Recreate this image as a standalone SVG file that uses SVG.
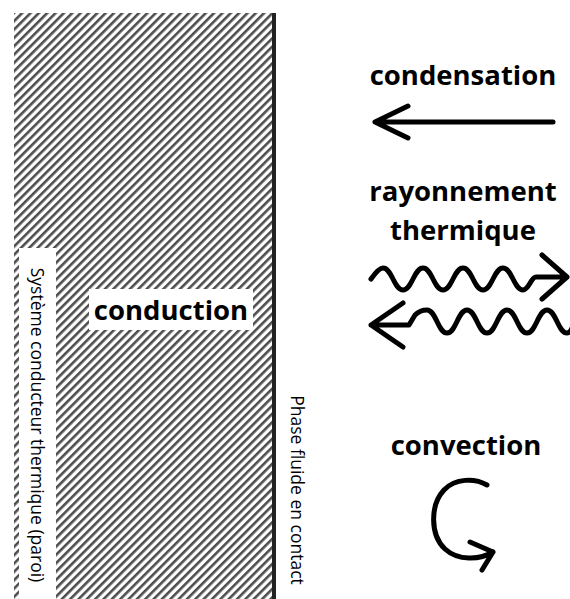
<svg xmlns="http://www.w3.org/2000/svg" width="570" height="599" viewBox="0 0 570 599">
  <style>
    .lbl { font-family: "Open Sans", "Liberation Sans", sans-serif; font-weight: bold; font-size: 27.5px; fill: #000; text-anchor: middle; }
    .vlbl { font-family: "Open Sans", "Liberation Sans", sans-serif; font-size: 17.5px; fill: #000; text-anchor: middle; }
    .arr { fill: none; stroke: #000; stroke-width: 5; stroke-linecap: round; stroke-linejoin: round; }
  </style>
  <defs>
    <pattern id="hatch" width="5.9" height="5.9" patternUnits="userSpaceOnUse" patternTransform="rotate(45)">
      <rect x="0" y="0" width="2.6" height="5.9" fill="#4d4d4d"/>
    </pattern>
  </defs>
  <rect width="570" height="599" fill="#fff"/>
  <g id="paroi">
    <rect x="14" y="13" width="258" height="586" fill="url(#hatch)"/>
    <rect x="272" y="13" width="4" height="586" fill="#222"/>
  </g>
  <g id="label-paroi">
    <rect x="19" y="248" width="37" height="351" fill="#fff"/>
    <text class="vlbl" transform="translate(31,425) rotate(90)">Système conducteur thermique (paroi)</text>
  </g>
  <g id="label-fluide">
    <text class="vlbl" transform="translate(291,490) rotate(90)">Phase fluide en contact</text>
  </g>
  <g id="conduction">
    <rect x="89" y="289" width="164" height="41" fill="#fff"/>
    <text class="lbl" x="171" y="320">conduction</text>
  </g>
  <g id="condensation">
    <text class="lbl" x="463" y="85">condensation</text>
  </g>
  <g id="rayonnement">
    <text class="lbl" x="463" y="201">rayonnement</text>
    <text class="lbl" x="463" y="240">thermique</text>
  </g>
  <g id="convection">
    <text class="lbl" x="466" y="455">convection</text>
  </g>
  <g id="connectors">
    <path class="arr" d="M 553 122 L 375 122 M 408 106 L 375 122 L 408 138"/>
    <path class="arr" d="M 371 279 C 376 272, 380 268, 383 268 C 392 268, 394 290, 403 290 C 412 290, 414 268, 423 268 C 432 268, 434 290, 443 290 C 452 290, 454 268, 463 268 C 472 268, 474 290, 483 290 C 492 290, 494 268, 503 268 C 512 268, 514 290, 523 290 C 529 290, 531 277, 536 277 L 567 277 M 542 255 L 567 277 L 542 299"/>
    <path class="arr" d="M 403 303 L 371 325 L 403 347 M 371 325 L 409 325 L 415 315 C 419 311, 423 310, 427 310 C 436 310, 438 333, 447 333 C 456 333, 458 310, 467 310 C 476 310, 478 333, 487 333 C 496 333, 498 310, 507 310 C 516 310, 518 333, 527 333 C 536 333, 538 310, 547 310 C 556 310, 558 333, 567 333 C 572 333, 574 322, 576 316"/>
    <path class="arr" d="M 487 485 C 475 478, 455 478, 444 490 C 430 505, 430 535, 445 549 C 458 561, 480 560, 493 552 M 470 542 L 493 552 L 482 570"/>
  </g>
</svg>
